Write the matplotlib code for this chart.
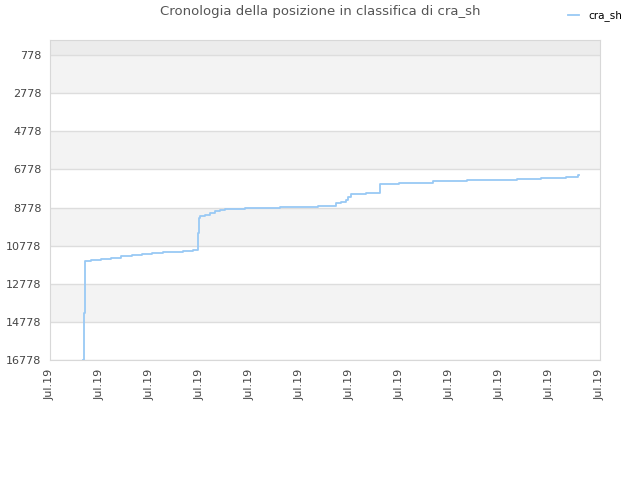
import matplotlib
matplotlib.use('Agg')
import matplotlib.pyplot as plt

# tick slots along x (all labelled Jul.19), position of each reading in tick units
x_labels = ['Jul.19'] * 12
pos_x = [0.666, 0.67, 0.70, 0.82, 1.02, 1.22, 1.42, 1.64, 1.84, 2.04, 2.26,
         2.46, 2.66, 2.86, 2.96, 2.986, 3.0, 3.1, 3.2, 3.3, 3.4, 3.5, 3.9,
         4.6, 5.36, 5.72, 5.82, 5.92, 5.96, 6.02, 6.32, 6.6, 6.98, 7.66,
         8.34, 8.9, 9.34, 9.82, 10.32, 10.56, 10.58]
rank = [16778, 14329, 11585, 11532, 11464, 11412, 11338, 11286, 11233, 11181,
        11128, 11113, 11060, 11008, 10116, 9329, 9224, 9150, 9050, 8960,
        8900, 8841, 8820, 8740, 8699, 8527, 8474, 8401, 8212, 8054, 8002,
        7530, 7477, 7388, 7351, 7320, 7267, 7215, 7162, 7057, 7057]
y_ticks = [778, 2778, 4778, 6778, 8778, 10778, 12778, 14778, 16778]

fig = plt.figure(figsize=(6.4, 4.8), dpi=100)
ax = fig.add_axes([50/640, 1-360/480, 550/640, 320/480])

# alternating bands
ax.axhspan(-10, 778, color='#ececec', lw=0, zorder=0)
for i in range(len(y_ticks) - 1):
    if i % 2 == 0:
        ax.axhspan(y_ticks[i], y_ticks[i+1], color='#f3f3f3', lw=0, zorder=0)

line, = ax.plot(pos_x, rank, drawstyle='steps-post', color='#99c9f5', lw=1.3,
                label='cra_sh', zorder=3)

ax.set_ylim(16778, -10)
ax.set_xlim(0, 11)
ax.set_yticks(y_ticks)
ax.set_yticklabels([str(v) for v in y_ticks])
ax.set_xticks(range(12))
ax.set_xticklabels(x_labels, rotation=90)
ax.yaxis.grid(True, color='#dddddd', lw=1, zorder=1)
ax.set_axisbelow(True)
ax.tick_params(length=0, labelsize=8, labelcolor='#444444', pad=6)
for s in ax.spines.values():
    s.set_color('#d8d8d8')

fig.text(0.5, 1-12/480, 'Cronologia della posizione in classifica di cra_sh',
         ha='center', va='center', fontsize=9.5, color='#555555')
fig.legend(handles=[line], loc='center right', bbox_to_anchor=(0.972, 1-16/480),
           frameon=False, fontsize=7.5, handlelength=1.0, handletextpad=0.9,
           borderaxespad=0, borderpad=0)

fig.savefig('out.png', dpi=100)
